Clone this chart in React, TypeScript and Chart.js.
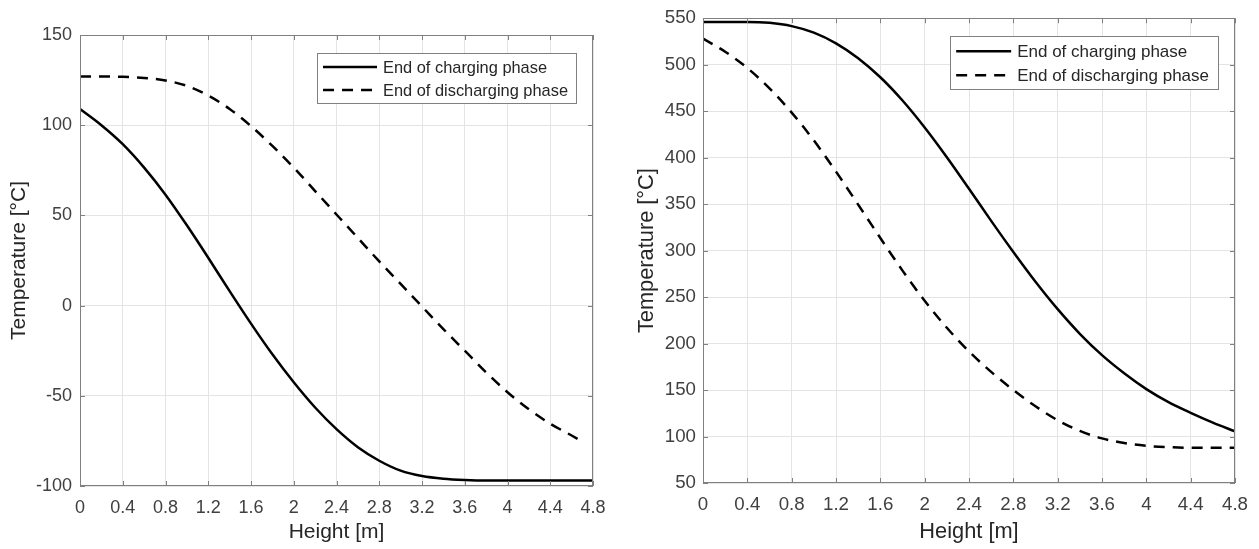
import React, { useEffect, useRef } from 'react';
import { Chart, registerables } from 'chart.js';

Chart.register(...registerables);

// ---------- data ----------
const HEIGHT = [0, 0.2, 0.4, 0.6, 0.8, 1.0, 1.2, 1.4, 1.6, 1.8, 2.0, 2.2, 2.4, 2.6, 2.8, 3.0, 3.2, 3.4, 3.6, 3.8, 4.0, 4.2, 4.4, 4.6, 4.8];
const HEIGHT_DIS_LEFT = [0, 0.2, 0.4, 0.6, 0.8, 1.0, 1.2, 1.4, 1.6, 1.8, 2.0, 2.2, 2.4, 2.6, 2.8, 3.0, 3.2, 3.4, 3.6, 3.8, 4.0, 4.2, 4.4, 4.6, 4.72];

const LEFT_CHARGING = [109, 100, 89.5, 76.5, 61.5, 44.5, 26.5, 8, -10, -27, -42.5, -56.5, -68.5, -78.5, -86, -91.5, -94.5, -96, -96.7, -97, -97, -97, -97, -97, -97];
const LEFT_DISCHARGING = [127, 127, 126.8, 126.2, 124.8, 121.8, 116.5, 109, 99.5, 88.5, 76.5, 63.5, 50.5, 37.5, 24.5, 12, -0.5, -13, -25, -37, -48, -57.5, -65.5, -72, -76];

const RIGHT_CHARGING = [546, 546, 546, 545, 541.5, 534.5, 523, 507, 486.5, 461.5, 432.5, 400.5, 366.5, 332, 298.5, 266.5, 237, 210.5, 187.5, 168, 151, 137, 125.5, 115, 105.5];
const RIGHT_DISCHARGING = [528, 514, 496.5, 474.5, 448.5, 418.5, 385, 349.5, 313.5, 278.5, 246, 217, 191.5, 169.5, 150, 132.5, 117.5, 106, 98, 93, 90, 88.5, 88, 88, 88];

const X_TICKS = [0, 0.4, 0.8, 1.2, 1.6, 2, 2.4, 2.8, 3.2, 3.6, 4, 4.4, 4.8];
const Y_TICKS_LEFT = [-100, -50, 0, 50, 100, 150];
const Y_TICKS_RIGHT = [50, 100, 150, 200, 250, 300, 350, 400, 450, 500, 550];

const SERIES_LABELS = ['End of charging phase', 'End of discharging phase'];
const X_TITLE = 'Height [m]';
const Y_TITLE = 'Temperature [°C]';

const FONT = "'Liberation Sans', Arial, Helvetica, sans-serif";
const AXIS_COLOR = '#808080';
const GRID_COLOR = '#e4e4e4';
const TICK_COLOR = '#404040';
const TITLE_COLOR = '#262626';
const DASH = [11, 8];

const zip = (xs: number[], ys: number[]) => xs.map((x, i) => ({ x, y: ys[i] }));

// ---------- plugin: MATLAB-like box, inward ticks, legend ----------
const matlabFrame = {
  id: 'matlabFrame',
  afterDraw(chart: any, _args: any, opts: any) {
    const { ctx, chartArea: a, scales } = chart;
    ctx.save();
    ctx.strokeStyle = AXIS_COLOR;
    ctx.lineWidth = 1;
    const tl = 5;
    ctx.beginPath();
    scales.x.ticks.forEach((t: any) => {
      const px = Math.round(scales.x.getPixelForValue(t.value)) + 0.5;
      ctx.moveTo(px, a.bottom);
      ctx.lineTo(px, a.bottom - tl);
      ctx.moveTo(px, a.top);
      ctx.lineTo(px, a.top + tl);
    });
    scales.y.ticks.forEach((t: any) => {
      const py = Math.round(scales.y.getPixelForValue(t.value)) + 0.5;
      ctx.moveTo(a.left, py);
      ctx.lineTo(a.left + tl, py);
      ctx.moveTo(a.right, py);
      ctx.lineTo(a.right - tl, py);
    });
    ctx.stroke();
    ctx.strokeRect(Math.round(a.left) + 0.5, Math.round(a.top) + 0.5, Math.round(a.width) - 1, Math.round(a.height) - 1);

    // legend
    const L = opts.legend;
    ctx.font = `${L.fontSize}px ${FONT}`;
    const datasets = chart.data.datasets;
    const textW = Math.max(...datasets.map((d: any) => ctx.measureText(d.label).width));
    const boxW = L.padLeft + L.lineLen + L.gap + textW + L.padRight;
    const boxRight = a.right - L.right;
    const boxLeft = boxRight - boxW;
    const boxTop = a.top + L.top;
    const boxH = L.padTop + L.rowGap * (datasets.length - 1) + L.padBottom;
    ctx.fillStyle = '#ffffff';
    ctx.fillRect(boxLeft, boxTop, boxW, boxH);
    ctx.strokeStyle = AXIS_COLOR;
    ctx.lineWidth = 1;
    ctx.strokeRect(Math.round(boxLeft) + 0.5, Math.round(boxTop) + 0.5, Math.round(boxW), Math.round(boxH));
    datasets.forEach((d: any, i: number) => {
      const y = boxTop + L.padTop + i * L.rowGap;
      ctx.beginPath();
      ctx.strokeStyle = d.borderColor;
      ctx.lineWidth = d.borderWidth;
      ctx.setLineDash(d.borderDash || []);
      ctx.moveTo(boxLeft + L.padLeft, y);
      ctx.lineTo(boxLeft + L.padLeft + L.lineLen, y);
      ctx.stroke();
      ctx.setLineDash([]);
      ctx.fillStyle = TITLE_COLOR;
      ctx.textBaseline = 'middle';
      ctx.textAlign = 'left';
      ctx.fillText(d.label, boxLeft + L.padLeft + L.lineLen + L.gap, y + 1);
    });
    ctx.restore();
  },
};

type PanelProps = {
  left: number;
  width: number;
  charging: { x: number; y: number }[];
  discharging: { x: number; y: number }[];
  yTicks: number[];
  yMin: number;
  yMax: number;
  padTop: number;
  padRight: number;
  yAxisWidth: number;
  xAxisHeight: number;
  yTickPad: number;
  xTickPad: number;
  yTitlePad: number;
  xTitlePad: number;
  tickSize: number;
  titleSize: number;
  legend: any;
};

function Panel(p: PanelProps) {
  const ref = useRef<HTMLCanvasElement | null>(null);
  useEffect(() => {
    if (!ref.current) return;
    const chart = new Chart(ref.current, {
      type: 'line',
      data: {
        datasets: [
          {
            label: SERIES_LABELS[0],
            data: p.charging,
            borderColor: '#000000',
            borderWidth: 2.5,
            pointRadius: 0,
            cubicInterpolationMode: 'monotone',
            fill: false,
          },
          {
            label: SERIES_LABELS[1],
            data: p.discharging,
            borderColor: '#000000',
            borderWidth: 2.5,
            borderDash: DASH,
            pointRadius: 0,
            cubicInterpolationMode: 'monotone',
            fill: false,
          },
        ],
      },
      options: {
        animation: false,
        responsive: true,
        maintainAspectRatio: false,
        layout: { padding: { top: p.padTop, right: p.padRight, left: 0, bottom: 0 } },
        plugins: {
          legend: { display: false },
          tooltip: { enabled: false },
          matlabFrame: { legend: p.legend },
        } as any,
        scales: {
          x: {
            type: 'linear',
            min: 0,
            max: 4.8,
            afterBuildTicks: (s: any) => {
              s.ticks = X_TICKS.map((v) => ({ value: v }));
            },
            afterFit: (s: any) => {
              s.height = p.xAxisHeight;
            },
            grid: { color: GRID_COLOR, drawTicks: false },
            border: { display: false },
            ticks: {
              padding: p.xTickPad,
              color: TICK_COLOR,
              font: { size: p.tickSize, family: FONT },
              maxRotation: 0,
              autoSkip: false,
              callback: (v: any) => String(v),
            },
            title: {
              display: true,
              text: X_TITLE,
              color: TITLE_COLOR,
              font: { size: p.titleSize, family: FONT },
              padding: { top: 0, bottom: p.xTitlePad },
            },
          },
          y: {
            type: 'linear',
            min: p.yMin,
            max: p.yMax,
            afterBuildTicks: (s: any) => {
              s.ticks = p.yTicks.map((v) => ({ value: v }));
            },
            afterFit: (s: any) => {
              s.width = p.yAxisWidth;
            },
            grid: { color: GRID_COLOR, drawTicks: false },
            border: { display: false },
            ticks: {
              padding: p.yTickPad,
              color: TICK_COLOR,
              font: { size: p.tickSize, family: FONT },
              autoSkip: false,
              callback: (v: any) => String(v),
            },
            title: {
              display: true,
              text: Y_TITLE,
              color: TITLE_COLOR,
              font: { size: p.titleSize, family: FONT },
              padding: { top: p.yTitlePad, bottom: 0 },
            },
          },
        },
      },
      plugins: [matlabFrame as any],
    });
    return () => chart.destroy();
  }, []);
  return (
    <div style={{ position: 'absolute', left: p.left, top: 0, width: p.width, height: 549 }}>
      <canvas ref={ref} />
    </div>
  );
}

export default function App() {
  return (
    <div style={{ position: 'fixed', left: 0, top: 0, width: 1259, height: 549, background: '#ffffff', overflow: 'hidden' }}>
      <Panel
        left={0}
        width={620}
        charging={zip(HEIGHT, LEFT_CHARGING)}
        discharging={zip(HEIGHT_DIS_LEFT, LEFT_DISCHARGING)}
        yTicks={Y_TICKS_LEFT}
        yMin={-100}
        yMax={150}
        padTop={35}
        padRight={27}
        yAxisWidth={80}
        xAxisHeight={63}
        yTickPad={8}
        xTickPad={11}
        yTitlePad={7}
        xTitlePad={4}
        tickSize={18}
        titleSize={21}
        legend={{ fontSize: 16.4, right: 17, top: 18, padTop: 14, padBottom: 13, rowGap: 23, padLeft: 6, lineLen: 54, gap: 6, padRight: 8 }}
      />
      <Panel
        left={620}
        width={639}
        charging={zip(HEIGHT, RIGHT_CHARGING)}
        discharging={zip(HEIGHT, RIGHT_DISCHARGING)}
        yTicks={Y_TICKS_RIGHT}
        yMin={50}
        yMax={550}
        padTop={15}
        padRight={21}
        yAxisWidth={83}
        xAxisHeight={66}
        yTickPad={7}
        xTickPad={11}
        yTitlePad={14}
        xTitlePad={4}
        tickSize={18.7}
        titleSize={21.8}
        legend={{ fontSize: 17, right: 17, top: 18, padTop: 15, padBottom: 14, rowGap: 24, padLeft: 6, lineLen: 55, gap: 6, padRight: 9 }}
      />
    </div>
  );
}
